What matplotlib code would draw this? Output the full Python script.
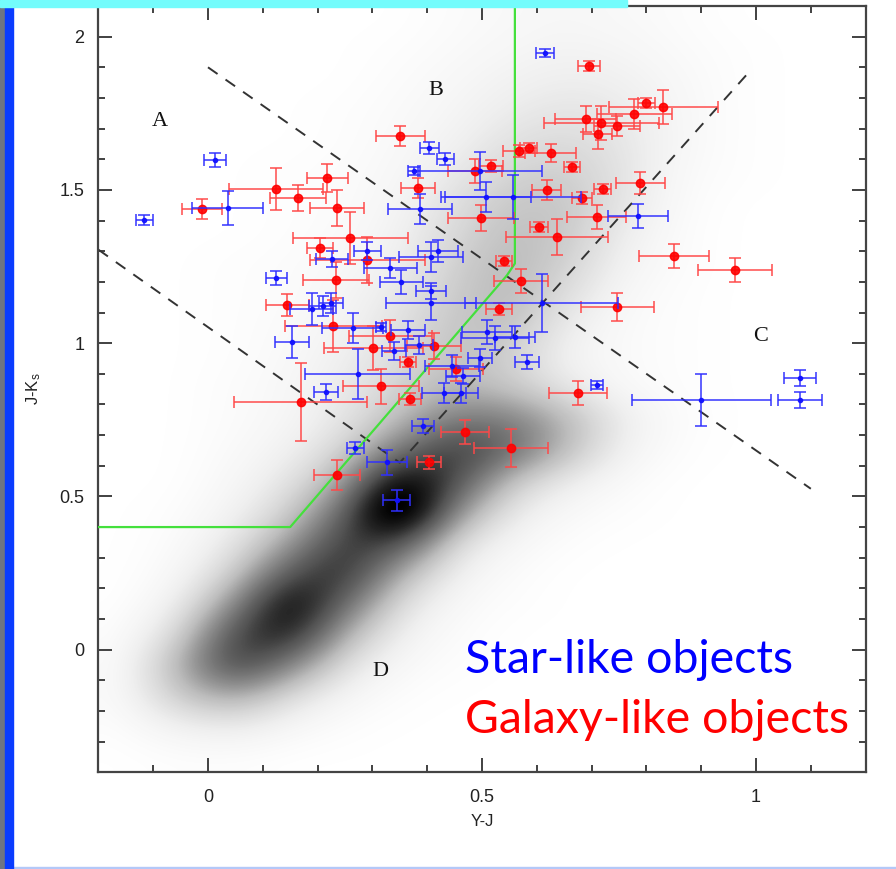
import matplotlib
matplotlib.use('Agg')
import matplotlib.pyplot as plt
import numpy as np
from matplotlib.patches import Rectangle
from matplotlib.colors import PowerNorm

# galaxy-like objects (red)
gal_yj = [0.351, 0.218, 0.124, 0.164, -0.011, 0.235, 0.384, 0.260, 0.205, 0.291,
          0.233, 0.145, 0.229, 0.333, 0.302, 0.413, 0.365, 0.453, 0.316, 0.369,
          0.169, 0.469, 0.553, 0.404, 0.236, 0.540, 0.571, 0.531, 0.747, 0.851,
          0.962, 0.675, 0.696, 0.689, 0.718, 0.747, 0.711, 0.778, 0.800, 0.831,
          0.567, 0.585, 0.625, 0.516, 0.487, 0.664, 0.789, 0.618, 0.720, 0.682,
          0.498, 0.709, 0.604, 0.636]
gal_jk = [1.676, 1.539, 1.503, 1.474, 1.438, 1.441, 1.507, 1.343, 1.310, 1.271,
          1.206, 1.124, 1.056, 1.023, 0.984, 0.990, 0.938, 0.915, 0.859, 0.817,
          0.807, 0.709, 0.657, 0.611, 0.569, 1.268, 1.203, 1.111, 1.118, 1.284,
          1.239, 0.837, 1.905, 1.732, 1.719, 1.709, 1.683, 1.748, 1.784, 1.771,
          1.627, 1.637, 1.621, 1.578, 1.562, 1.575, 1.523, 1.500, 1.503, 1.474,
          1.408, 1.412, 1.379, 1.346]
gal_xerr = [0.045, 0.038, 0.085, 0.051, 0.036, 0.049, 0.031, 0.105, 0.024, 0.105,
            0.060, 0.040, 0.089, 0.076, 0.091, 0.049, 0.015, 0.049, 0.069, 0.020,
            0.122, 0.044, 0.067, 0.022, 0.042, 0.015, 0.049, 0.024, 0.067, 0.064,
            0.067, 0.053, 0.020, 0.055, 0.105, 0.042, 0.027, 0.069, 0.016, 0.100,
            0.029, 0.015, 0.047, 0.022, 0.049, 0.015, 0.045, 0.027, 0.015, 0.018,
            0.060, 0.053, 0.016, 0.093]
gal_yerr = [0.033, 0.046, 0.069, 0.042, 0.033, 0.059, 0.033, 0.085, 0.033, 0.075,
            0.059, 0.036, 0.085, 0.052, 0.072, 0.042, 0.016, 0.039, 0.056, 0.020,
            0.127, 0.039, 0.062, 0.020, 0.049, 0.016, 0.039, 0.020, 0.046, 0.039,
            0.039, 0.039, 0.016, 0.042, 0.056, 0.033, 0.049, 0.049, 0.016, 0.056,
            0.020, 0.016, 0.029, 0.020, 0.039, 0.016, 0.036, 0.033, 0.016, 0.020,
            0.042, 0.039, 0.016, 0.059]

# star-like objects (blue)
star_yj = [0.615, 0.013, -0.116, 0.036, 0.404, 0.433, 0.376, 0.496, 0.387, 0.507,
           0.556, 0.785, 0.291, 0.227, 0.407, 0.420, 0.125, 0.333, 0.353, 0.407,
           0.407, 0.609, 0.189, 0.209, 0.224, 0.264, 0.153, 0.273, 0.216, 0.316,
           0.340, 0.365, 0.385, 0.445, 0.465, 0.496, 0.431, 0.462, 0.582, 0.509,
           0.524, 0.560, 0.393, 0.269, 0.327, 0.344, 0.709, 0.900, 1.080, 1.080]
star_jk = [1.948, 1.598, 1.402, 1.441, 1.637, 1.601, 1.562, 1.562, 1.438, 1.477,
           1.477, 1.415, 1.301, 1.275, 1.281, 1.301, 1.212, 1.245, 1.199, 1.170,
           1.131, 1.131, 1.111, 1.121, 1.131, 1.049, 1.003, 0.899, 0.840, 1.052,
           0.974, 1.042, 0.993, 0.925, 0.892, 0.951, 0.837, 0.837, 0.938, 1.036,
           1.016, 1.020, 0.729, 0.657, 0.611, 0.487, 0.863, 0.814, 0.886, 0.814]
star_xerr = [0.016, 0.020, 0.016, 0.065, 0.018, 0.015, 0.011, 0.113, 0.058, 0.082,
             0.124, 0.055, 0.024, 0.029, 0.058, 0.036, 0.020, 0.049, 0.040, 0.027,
             0.082, 0.140, 0.040, 0.025, 0.022, 0.056, 0.031, 0.096, 0.022, 0.009,
             0.022, 0.031, 0.025, 0.049, 0.031, 0.022, 0.040, 0.031, 0.022, 0.045,
             0.062, 0.036, 0.020, 0.015, 0.036, 0.025, 0.011, 0.127, 0.029, 0.040]
star_yerr = [0.013, 0.023, 0.016, 0.056, 0.020, 0.020, 0.013, 0.062, 0.049, 0.049,
             0.072, 0.039, 0.029, 0.026, 0.049, 0.036, 0.023, 0.033, 0.039, 0.026,
             0.056, 0.095, 0.052, 0.033, 0.033, 0.049, 0.052, 0.082, 0.026, 0.013,
             0.029, 0.029, 0.029, 0.036, 0.026, 0.029, 0.033, 0.033, 0.023, 0.039,
             0.039, 0.036, 0.023, 0.020, 0.042, 0.033, 0.013, 0.085, 0.026, 0.026]

# background catalogue, density per 0.1x0.1 cell (rows J-Ks 2.05 -> -0.35, cols Y-J -0.15 -> 1.15)
cloud_density = [
    [0, 0, 0, 0, 0, 0, 0.1, 0.2, 0.3, 0.2, 0.1, 0, 0, 0],
    [0, 0, 0, 0, 0, 0.05, 0.15, 0.3, 0.45, 0.35, 0.15, 0.05, 0, 0],
    [0, 0, 0, 0, 0, 0.1, 0.25, 0.5, 0.7, 0.6, 0.25, 0.05, 0, 0],
    [0, 0, 0, 0, 0.05, 0.15, 0.35, 0.75, 1.0, 0.85, 0.3, 0.05, 0, 0],
    [0, 0, 0, 0, 0.05, 0.2, 0.5, 1.1, 1.4, 1.0, 0.3, 0.05, 0, 0],
    [0, 0, 0, 0.05, 0.1, 0.25, 0.8, 1.6, 1.8, 1.1, 0.2, 0.05, 0, 0],
    [0, 0, 0, 0.05, 0.1, 0.35, 1.2, 2.0, 2.1, 1.0, 0.15, 0, 0, 0],
    [0, 0, 0, 0.05, 0.15, 0.5, 1.4, 2.3, 2.0, 0.7, 0.1, 0, 0, 0],
    [0, 0, 0.05, 0.1, 0.25, 0.6, 1.7, 2.5, 1.7, 0.45, 0.1, 0, 0, 0],
    [0, 0, 0.05, 0.1, 0.35, 0.85, 1.9, 2.5, 1.2, 0.25, 0.05, 0, 0, 0],
    [0, 0, 0.05, 0.15, 0.45, 1.1, 2.1, 2.2, 0.7, 0.15, 0.05, 0, 0, 0],
    [0, 0, 0.05, 0.2, 0.6, 1.3, 2.3, 1.7, 0.45, 0.15, 0.05, 0, 0, 0],
    [0, 0, 0.1, 0.25, 0.8, 1.6, 2.6, 2.0, 0.9, 0.2, 0.05, 0, 0, 0],
    [0, 0, 0.1, 0.3, 0.9, 2.3, 4.2, 4.2, 2.6, 0.7, 0.1, 0, 0, 0],
    [0, 0, 0.15, 0.5, 1.5, 4.2, 6.5, 5.0, 2.4, 0.5, 0.05, 0, 0, 0],
    [0, 0, 0.25, 0.9, 2.8, 8.5, 6.0, 2.0, 0.7, 0.15, 0, 0, 0, 0],
    [0, 0.05, 0.4, 1.6, 4.8, 11.0, 3.5, 0.8, 0.2, 0.05, 0, 0, 0, 0],
    [0, 0.1, 0.8, 3.0, 6.5, 6.0, 1.2, 0.3, 0.05, 0, 0, 0, 0, 0],
    [0, 0.2, 1.6, 5.5, 7.0, 2.6, 0.5, 0.1, 0, 0, 0, 0, 0, 0],
    [0, 0.5, 3.5, 8.5, 4.8, 1.1, 0.2, 0.05, 0, 0, 0, 0, 0, 0],
    [0.05, 1.3, 6.0, 7.5, 2.5, 0.5, 0.1, 0, 0, 0, 0, 0, 0, 0],
    [0.1, 2.6, 6.5, 4.0, 1.0, 0.2, 0.05, 0, 0, 0, 0, 0, 0, 0],
    [0.15, 2.0, 3.0, 1.2, 0.3, 0.05, 0, 0, 0, 0, 0, 0, 0, 0],
    [0.05, 0.5, 0.7, 0.25, 0.05, 0, 0, 0, 0, 0, 0, 0, 0, 0],
    [0, 0.05, 0.05, 0, 0, 0, 0, 0, 0, 0, 0, 0, 0, 0],
]

# selection boundaries
green_x = [-0.2, 0.15, 0.545, 0.56, 0.56]
green_y = [0.40, 0.40, 1.22, 1.26, 2.1]
dash1_x = [0.0, 1.1]
dash1_y = [1.9, 0.525]
dash2_x = [-0.2, 0.35, 0.99]
dash2_y = [1.305, 0.61, 1.89]

region_labels = ['A', 'B', 'C', 'D']
region_x = [-0.087, 0.416, 1.009, 0.315]
region_y = [1.722, 1.824, 1.023, -0.072]

plt.rcParams['mathtext.default'] = 'regular'
fig = plt.figure(figsize=(8.96, 8.69), dpi=100)
ax = fig.add_axes([0.1098, 0.1113, 0.8563, 0.8818])

ax.imshow(np.array(cloud_density), extent=(-0.2, 1.2, -0.4, 2.1), origin='upper',
          cmap='Greys', norm=PowerNorm(gamma=0.8, vmin=0, vmax=8, clip=True),
          interpolation='bicubic', aspect='auto', zorder=0)

ax.plot(dash1_x, dash1_y, ls=(0, (6, 5)), color='#333333', lw=1.4, zorder=2)
ax.plot(dash2_x, dash2_y, ls=(0, (6, 5)), color='#333333', lw=1.4, zorder=2)
ax.plot(green_x, green_y, color='#44e03c', lw=1.6, zorder=3)

ax.errorbar(gal_yj, gal_jk, xerr=gal_xerr, yerr=gal_yerr, fmt='o', color='red',
            ecolor='#ff4848', elinewidth=1.2, capsize=4, capthick=1.2, ms=6,
            alpha=0.9, zorder=4)
ax.errorbar(star_yj, star_jk, xerr=star_xerr, yerr=star_yerr, fmt='o', color='#1010ff',
            ecolor='#3030ff', elinewidth=1.2, capsize=4, capthick=1.2, ms=3,
            alpha=0.9, zorder=5)

for lab, x, y in zip(region_labels, region_x, region_y):
    ax.text(x, y, lab, family='Liberation Serif', fontsize=16, ha='center', va='center',
            color='#111111')

ax.set_xlim(-0.2, 1.2)
ax.set_ylim(-0.4, 2.1)
ax.set_xticks([0, 0.5, 1])
ax.set_xticklabels(['0', '0.5', '1'])
ax.set_yticks([0, 0.5, 1, 1.5, 2])
ax.set_yticklabels(['0', '0.5', '1', '1.5', '2'])
ax.set_xticks(np.arange(-0.1, 1.15, 0.1), minor=True)
ax.set_yticks(np.arange(-0.3, 2.05, 0.1), minor=True)
ax.tick_params(which='both', direction='in', top=True, right=True, colors='#333333',
               width=1.3, labelcolor='#222222', labelsize=13)
ax.tick_params(which='major', length=10)
ax.tick_params(which='minor', length=5)
ax.tick_params(axis='x', pad=12)
ax.tick_params(axis='y', pad=10)
for fam in [ax.get_xticklabels(), ax.get_yticklabels()]:
    for t in fam:
        t.set_family('Liberation Sans')
for s in ax.spines.values():
    s.set_linewidth(1.6)
    s.set_color('#444444')

ax.set_xlabel('Y-J', family='Liberation Sans', fontsize=12, color='#222222', labelpad=6)
ax.set_ylabel('J-K$_s$', family='Liberation Sans', fontsize=12, color='#222222', labelpad=12)

fig.text(0.519, 0.2256, 'Star-like objects', color='#0000ff', family='Lato', fontsize=33.5,
         va='baseline')
fig.text(0.519, 0.1565, 'Galaxy-like objects', color='#ff0000', family='Lato', fontsize=33.5,
         va='baseline')

# slide frame
fig.patches.append(Rectangle((0, 0), 5 / 896, 1, transform=fig.transFigure,
                             color='#6f7582', zorder=10))
fig.patches.append(Rectangle((5 / 896, 0), 8 / 896, 1, transform=fig.transFigure,
                             color='#0a3cff', zorder=10))
fig.patches.append(Rectangle((0, 1 - 7 / 869), 627 / 896, 7 / 869, transform=fig.transFigure,
                             color='#73fcfc', zorder=11))
fig.patches.append(Rectangle((0, 0), 1, 2 / 869, transform=fig.transFigure,
                             color='#b4c8f8', zorder=9))

fig.savefig('out.png', dpi=100)
